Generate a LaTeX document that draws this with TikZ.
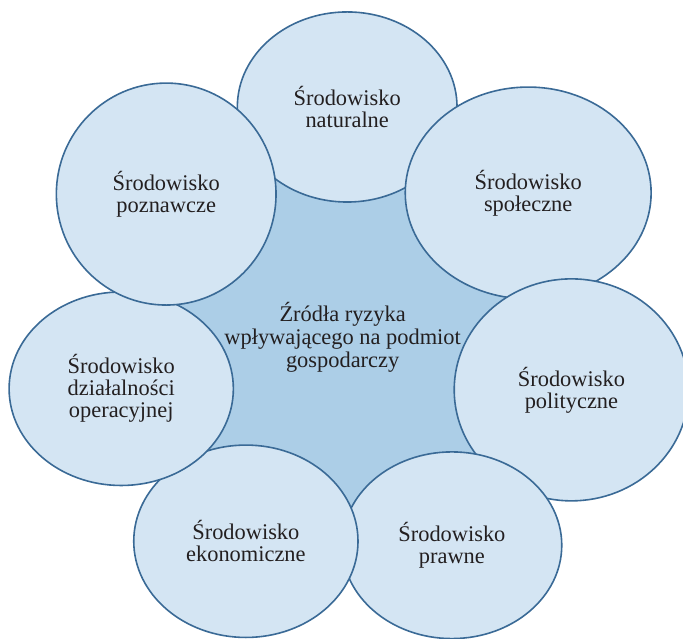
\documentclass[tikz,border=0pt]{standalone}
\usepackage{fontspec}
\setmainfont{LiberationSerif-Regular.ttf}
\usetikzlibrary{shapes.geometric}
\definecolor{envfill}{RGB}{212,229,243}
\definecolor{corefill}{RGB}{172,206,231}
\definecolor{envline}{RGB}{58,106,150}
\definecolor{envtext}{RGB}{35,31,32}
\begin{document}
\begin{tikzpicture}[
  env/.style={draw=envline, line width=0.8pt, fill=envfill, ellipse, inner sep=0pt, align=center, text=envtext, font=\fontsize{11.2}{11}\selectfont},
  core/.style={env, fill=corefill, font=\fontsize{11.2}{11.5}\selectfont}]
\useasboundingbox (0,0) rectangle (12.00,11.21);
\node[core, minimum width=6.44cm, minimum height=6.44cm] (zrodla) at (6.02,5.28) {Źródła ryzyka\\wpływającego na podmiot\\gospodarczy};
\node[env, minimum width=3.86cm, minimum height=3.34cm] (naturalne) at (6.10,9.33) {Środowisko\\naturalne};
\node[env, minimum width=4.32cm, minimum height=3.72cm] (spoleczne) at (9.28,7.82) {Środowisko\\społeczne};
\node[env, minimum width=4.12cm, minimum height=3.90cm] (polityczne) at (10.04,4.36) {Środowisko\\polityczne};
\node[env, minimum width=3.86cm, minimum height=3.28cm] (prawne) at (7.94,1.63) {Środowisko\\prawne};
\node[env, minimum width=3.94cm, minimum height=3.38cm] (ekonomiczne) at (4.32,1.70) {Środowisko\\ekonomiczne};
\node[env, minimum width=3.94cm, minimum height=3.40cm] (operacyjne) at (2.13,4.38) {Środowisko\\działalności\\operacyjnej};
\node[env, minimum width=3.86cm, minimum height=3.90cm] (poznawcze) at (2.92,7.80) {Środowisko\\poznawcze};
\end{tikzpicture}
\end{document}
